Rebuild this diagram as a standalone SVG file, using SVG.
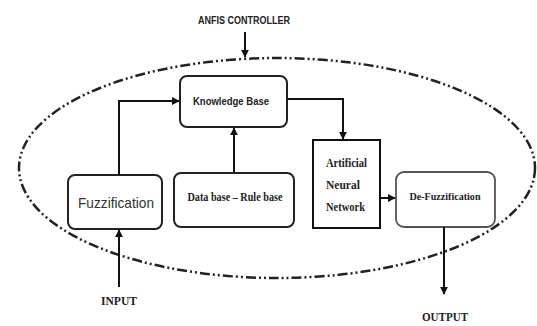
<svg xmlns="http://www.w3.org/2000/svg" width="537" height="326" viewBox="0 0 537 326">
<defs>
<style>
.box{fill:#fff;stroke:#222;stroke-width:2}
.ln{fill:none;stroke:#111;stroke-width:2}
.sans{font-family:"Liberation Sans",Arial,sans-serif;font-weight:bold;fill:#222}
.serif{font-family:"Liberation Serif","Times New Roman",serif;font-weight:bold;fill:#222}
</style>
<marker id="ah" viewBox="0 0 10 10" refX="9" refY="5" markerWidth="4" markerHeight="4" orient="auto-start-reverse" markerUnits="strokeWidth">
<path d="M0,0 L10,5 L0,10 z" fill="#111"/>
</marker>
</defs>
<rect width="537" height="326" fill="#fff"/>
<ellipse cx="277" cy="168" rx="258" ry="110" fill="none" stroke="#222" stroke-width="2.5" stroke-dasharray="10 3 2 3 2 3"/>
<g id="title">
<text class="sans" x="244" y="24" text-anchor="middle" font-size="10.5" textLength="92" lengthAdjust="spacingAndGlyphs">ANFIS CONTROLLER</text>
</g>
<g id="kb">
<rect class="box" x="180" y="76" width="107" height="51" rx="7"/>
<text class="sans" x="231" y="105" text-anchor="middle" font-size="11" textLength="76" lengthAdjust="spacingAndGlyphs">Knowledge Base</text>
</g>
<g id="fuzz">
<rect class="box" x="68" y="175" width="94" height="54" rx="7"/>
<text x="116" y="208" text-anchor="middle" font-family="'Liberation Sans',Arial,sans-serif" font-size="15" fill="#333" textLength="76" lengthAdjust="spacingAndGlyphs">Fuzzification</text>
</g>
<g id="db">
<rect class="box" x="174" y="173" width="120" height="54" rx="7"/>
<text class="serif" x="235" y="201" text-anchor="middle" font-size="12" textLength="95" lengthAdjust="spacingAndGlyphs">Data base – Rule base</text>
</g>
<g id="ann">
<rect x="313" y="140" width="67" height="88" fill="#fff" stroke="#111" stroke-width="2"/>
<text class="serif" x="326" y="167" font-size="11.5" textLength="41" lengthAdjust="spacingAndGlyphs">Artificial</text>
<text class="serif" x="326" y="189" font-size="11.5">Neural</text>
<text class="serif" x="326" y="211" font-size="11.5" textLength="39" lengthAdjust="spacingAndGlyphs">Network</text>
</g>
<g id="defuzz">
<rect x="396" y="172" width="99" height="55" rx="8" fill="#fff" stroke="#555" stroke-width="1.8"/>
<text class="serif" x="445" y="200" text-anchor="middle" font-size="11" textLength="71" lengthAdjust="spacingAndGlyphs">De-Fuzzification</text>
</g>
<g id="io">
<text class="serif" x="119" y="305" text-anchor="middle" font-size="12" textLength="36" lengthAdjust="spacingAndGlyphs">INPUT</text>
<text class="serif" x="445" y="321" text-anchor="middle" font-size="12" textLength="46" lengthAdjust="spacingAndGlyphs">OUTPUT</text>
</g>
<g id="connectors">
<path class="ln" d="M245,32 V57" marker-end="url(#ah)"/>
<path class="ln" d="M119,175 V101 H179" marker-end="url(#ah)"/>
<path class="ln" d="M234,173 V128" stroke-width="2.5" marker-end="url(#ah)"/>
<path class="ln" d="M287,99 H343 V139" marker-end="url(#ah)"/>
<path class="ln" d="M380,198 H395" stroke-width="3" marker-end="url(#ah)"/>
<path class="ln" d="M444,227 V294" stroke-width="2.5" marker-end="url(#ah)"/>
<path class="ln" d="M119,287 V230" stroke-width="2.5" marker-end="url(#ah)"/>
</g>
</svg>
